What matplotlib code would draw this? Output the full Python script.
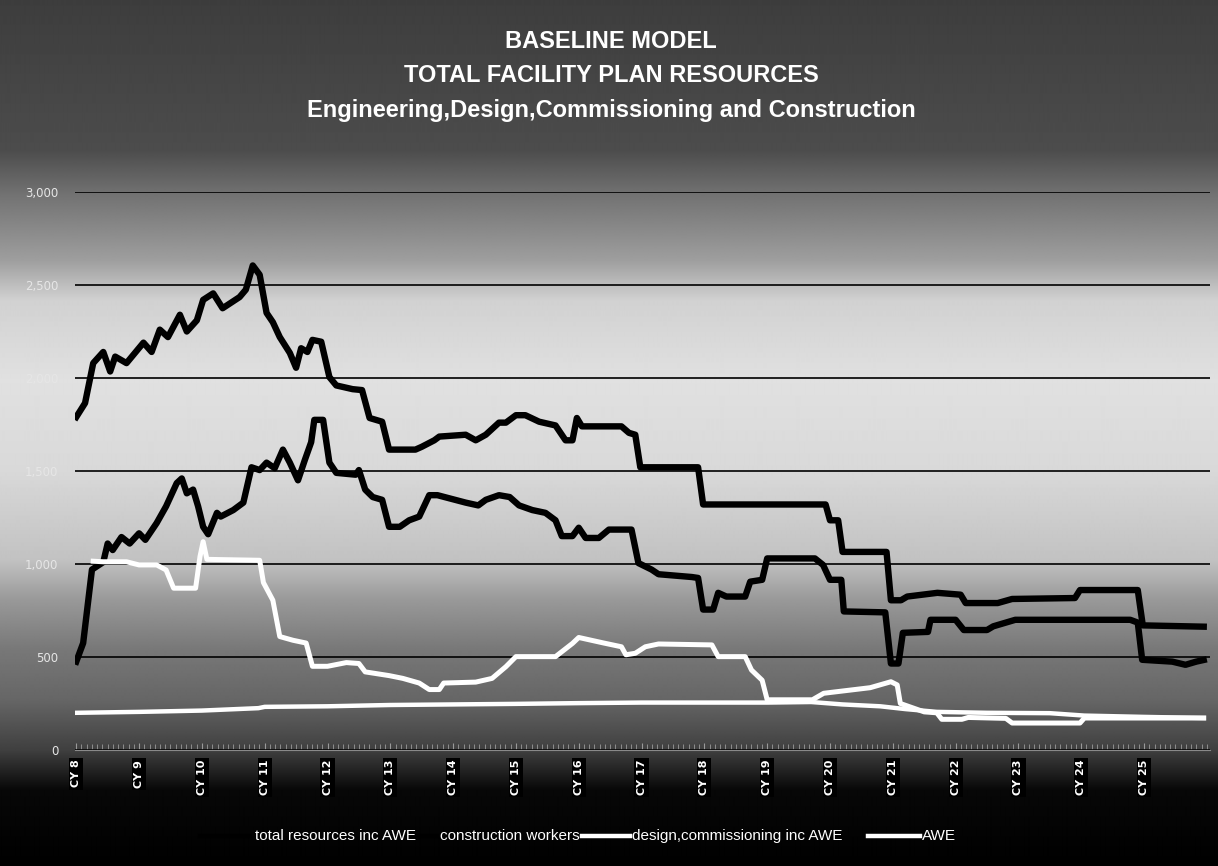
import numpy as np
import matplotlib
matplotlib.use("Agg")
import matplotlib.pyplot as plt
from matplotlib.lines import Line2D

# series: (calendar year position, resources)
total_t = [8.00, 8.14, 8.27, 8.43, 8.54, 8.62, 8.80, 9.07, 9.20, 9.33, 9.46, 9.65, 9.76, 9.92,
           10.02, 10.18, 10.33, 10.60, 10.70, 10.81, 10.92, 11.03, 11.13, 11.24, 11.40, 11.50,
           11.58, 11.68, 11.76, 11.90, 12.03, 12.14, 12.40, 12.55, 12.67, 12.87, 12.98, 13.40,
           13.50, 13.70, 13.78, 14.20, 14.36, 14.52, 14.73, 14.84, 15.00, 15.15, 15.37, 15.63,
           15.79, 15.90, 15.97, 16.05, 16.68, 16.80, 16.90, 16.98, 17.90, 17.98, 19.93, 20.00,
           20.13, 20.20, 20.90, 20.97, 21.13, 21.23, 21.71, 22.08, 22.16, 22.67, 22.90, 23.90,
           23.98, 24.90, 24.98, 25.95]
total_v = [1790, 1865, 2080, 2140, 2035, 2115, 2080, 2190, 2140, 2260, 2220, 2340, 2250, 2310,
           2420, 2455, 2375, 2435, 2475, 2605, 2555, 2350, 2300, 2220, 2135, 2055,
           2160, 2140, 2205, 2195, 2005, 1960, 1940, 1935, 1785, 1765, 1615, 1615,
           1630, 1665, 1685, 1695, 1665, 1695, 1760, 1760, 1800, 1800, 1765, 1745,
           1665, 1665, 1785, 1740, 1740, 1705, 1695, 1520, 1520, 1320, 1320, 1235,
           1235, 1065, 1065, 805, 805, 825, 845, 835, 790, 790, 812, 817,
           860, 860, 670, 663]

constr_t = [8.00, 8.11, 8.25, 8.43, 8.50, 8.58, 8.72, 8.85, 9.00, 9.10, 9.28, 9.43, 9.60, 9.68,
            9.76, 9.86, 9.94, 10.02, 10.10, 10.24, 10.30, 10.50, 10.66, 10.79, 10.92, 11.03,
            11.16, 11.29, 11.40, 11.53, 11.64, 11.74, 11.79, 11.93, 12.03, 12.14, 12.45, 12.50,
            12.60, 12.72, 12.87, 12.98, 13.15, 13.30, 13.46, 13.62, 13.75, 14.20, 14.40, 14.52,
            14.73, 14.90, 15.05, 15.26, 15.47, 15.63, 15.73, 15.90, 16.00, 16.11, 16.32, 16.48,
            16.84, 16.95, 17.16, 17.27, 17.80, 17.90, 17.98, 18.14, 18.22, 18.35, 18.65, 18.73,
            18.92, 19.00, 19.76, 19.89, 20.00, 20.18, 20.22, 20.88, 20.97, 21.09, 21.16, 21.56,
            21.60, 22.00, 22.13, 22.50, 22.60, 22.95, 24.78, 24.90, 24.97, 25.45, 25.66, 25.83,
            25.95]
constr_v = [475, 575, 970, 1010, 1110, 1075, 1145, 1110, 1165, 1130, 1220, 1310, 1435, 1460,
            1380, 1400, 1310, 1200, 1160, 1275, 1255, 1290, 1330, 1520, 1505, 1545,
            1515, 1615, 1545, 1450, 1560, 1655, 1775, 1775, 1545, 1490, 1480, 1505,
            1400, 1360, 1345, 1200, 1200, 1235, 1255, 1370, 1370, 1330, 1315, 1345,
            1370, 1360, 1315, 1290, 1275, 1235, 1150, 1150, 1195, 1140, 1140, 1185,
            1185, 1005, 970, 945, 930, 925, 755, 755, 845, 825, 825, 905,
            915, 1030, 1030, 995, 915, 915, 745, 740, 465, 465, 630, 635,
            700, 700, 645, 645, 665, 700, 700, 685, 485, 475, 458, 475,
            484]

design_t = [8.27, 8.43, 8.80, 9.00, 9.28, 9.43, 9.55, 9.90, 9.97, 10.02, 10.08, 10.92, 10.98,
            11.13, 11.24, 11.45, 11.66, 11.76, 12.00, 12.30, 12.50, 12.60, 12.98, 13.20, 13.46,
            13.62, 13.78, 13.85, 14.36, 14.62, 14.84, 15.00, 15.63, 15.90, 16.00, 16.40, 16.68,
            16.75, 16.90, 17.06, 17.27, 18.12, 18.22, 18.65, 18.75, 18.92, 19.00, 19.72, 19.90,
            20.64, 20.97, 21.07, 21.12, 21.50, 21.70, 21.78, 22.10, 22.20, 22.80, 22.90, 23.98,
            24.05, 25.95]
design_v = [1015, 1012, 1012, 995, 995, 968, 870, 870, 1040, 1120, 1025, 1020, 900,
            805, 610, 590, 575, 450, 450, 470, 465, 420, 400, 385, 360,
            325, 325, 360, 365, 385, 448, 502, 502, 573, 605, 575, 555,
            512, 520, 555, 570, 565, 502, 502, 430, 375, 270, 270, 305,
            335, 367, 350, 250, 205, 200, 165, 165, 175, 170, 145, 145,
            172, 172]

awe_t = [8.00, 9.00, 10.00, 10.90, 11.00, 12.00, 13.00, 14.00, 15.00, 16.00, 17.00, 18.00,
         19.00, 19.70, 20.20, 20.80, 21.20, 21.70, 22.50, 23.50, 24.05, 25.00, 25.95]
awe_v = [200, 205, 212, 225, 232, 235, 242, 245, 248, 252, 255, 255,
         255, 258, 245, 235, 220, 205, 200, 198, 185, 178, 172]

years = list(range(8, 26))
year_labels = [f"CY {y}" for y in years]
y_ticks = [0, 500, 1000, 1500, 2000, 2500, 3000]

title_lines = ["BASELINE MODEL", "TOTAL FACILITY PLAN RESOURCES",
               "Engineering,Design,Commissioning and Construction"]
legend_labels = ["total resources inc AWE", "construction workers",
                 "design,commissioning inc AWE", "AWE"]
legend_colors = ["black", "black", "white", "white"]

W, H = 1218, 866
fig = plt.figure(figsize=(W / 100, H / 100), dpi=100)
fig.patch.set_facecolor("black")

# background wash, dark top and bottom, light in the middle
bg = fig.add_axes([0, 0, 1, 1], zorder=-5)
stops_y = [0, 150, 195, 260, 300, 380, 470, 560, 600, 650, 700, 750, 790, 866]
stops_g = [0.24, 0.30, 0.45, 0.62, 0.82, 0.88, 0.85, 0.76, 0.60, 0.47, 0.40, 0.25, 0.03, 0.0]
col = np.interp(np.arange(H), stops_y, stops_g)
bg.imshow(np.tile(col[:, None], (1, 4)), aspect="auto", cmap="gray", vmin=0, vmax=1,
          extent=(0, 1, 1, 0), interpolation="bilinear")
bg.axis("off")

ax = fig.add_axes([75 / W, 1 - 750 / H, (1210 - 75) / W, (750 - 192) / H])
ax.set_facecolor("none")

ax.plot(total_t, total_v, color="black", lw=4.6, solid_joinstyle="round")
ax.plot(constr_t, constr_v, color="black", lw=4.6, solid_joinstyle="round")
ax.plot(design_t, design_v, color="white", lw=3.6, solid_joinstyle="round")
ax.plot(awe_t, awe_v, color="white", lw=3.2, solid_joinstyle="round")

ax.set_xlim(7.98, 26.05)
ax.set_ylim(0, 3000)
ax.set_yticks(y_ticks)
ax.set_yticklabels([f"{v:,}" for v in y_ticks])
ax.yaxis.grid(True, color="black", lw=1.2)
ax.set_axisbelow(True)
for s in ["top", "right", "left"]:
    ax.spines[s].set_visible(False)
ax.spines["bottom"].set_color("#8a8a8a")
ax.tick_params(axis="y", length=0, labelsize=8.5, labelcolor="#e6e6e6", pad=12)

ax.set_xticks(years)
ax.set_xticks(np.arange(8, 26.01, 1 / 12), minor=True)
ax.set_xticklabels(year_labels, rotation=90, va="top", ha="center", fontsize=8,
                   fontweight="bold", color="white",
                   bbox=dict(facecolor="black", edgecolor="none", pad=1.5))
ax.tick_params(axis="x", which="major", length=5, direction="in", color="#9a9a9a", pad=7)
ax.tick_params(axis="x", which="minor", length=4, direction="in", color="#9a9a9a")

tfont = ["Liberation Sans", "DejaVu Sans"]
for i, line in enumerate(title_lines):
    fig.text(611 / W, 1 - (41 + 34.5 * i) / H, line, ha="center", va="center",
             color="white", fontsize=17, fontweight="bold", family=tfont)

# legend laid out like the original: handle, then label, in one row
leg_y = 1 - 836 / H
handle_x = [(200, 250), (395, 437), (582, 630), (868, 920)]
text_x = [255, 440, 632, 922]
for (x0, x1), tx, lab, c in zip(handle_x, text_x, legend_labels, legend_colors):
    fig.add_artist(Line2D([x0 / W, x1 / W], [leg_y, leg_y], transform=fig.transFigure,
                          color=c, lw=3.2, zorder=1))
    fig.text(tx / W, leg_y, lab, ha="left", va="center", color="white", fontsize=11,
             family=tfont, zorder=2)

fig.savefig("out.png", dpi=100, facecolor=fig.get_facecolor())
